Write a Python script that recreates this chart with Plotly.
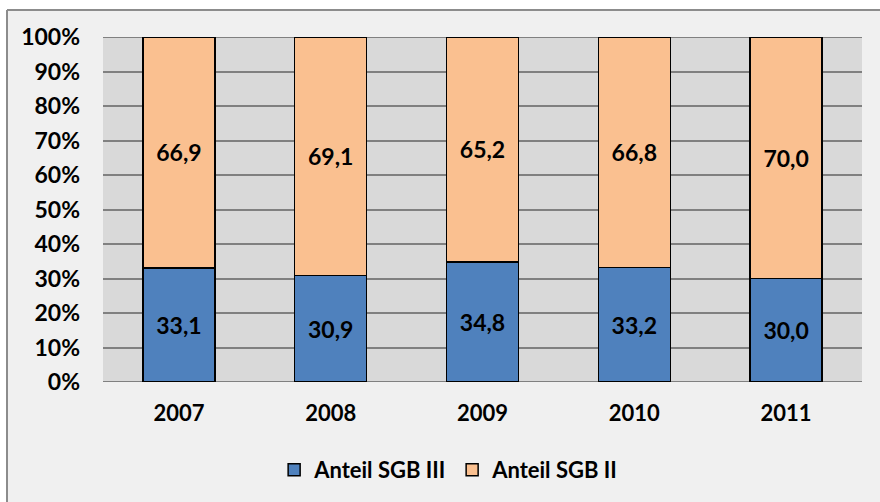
import plotly.graph_objects as go

# Share of each legal code by year (percent)
years = ["2007", "2008", "2009", "2010", "2011"]
sgb3 = [33.1, 30.9, 34.8, 33.2, 30.0]
sgb2 = [66.9, 69.1, 65.2, 66.8, 70.0]

W, H = 880, 502
L, R, T, B = 103, 18, 37, 119
pw, ph = W - L - R, H - T - B

def px_x(x):
    return (x - L) / pw

def px_y(y):
    return (H - B - y) / ph

font_family = "Lato, 'Open Sans', sans-serif"
label_font = dict(family=font_family, size=23, color="black", weight="bold")

fig = go.Figure()
fig.add_trace(go.Bar(
    x=years, y=sgb3, name="Anteil SGB III",
    marker=dict(color="#4f81bd", line=dict(color="black", width=1.5)),
    texttemplate="%{y:.1f}", textposition="inside", insidetextanchor="middle",
    textfont=label_font, textangle=0,
))
fig.add_trace(go.Bar(
    x=years, y=sgb2, name="Anteil SGB II",
    marker=dict(color="#fac090", line=dict(color="black", width=1.5)),
    texttemplate="%{y:.1f}", textposition="inside", insidetextanchor="middle",
    textfont=label_font, textangle=0,
))

# White page margin above and left of the chart frame
fig.add_shape(type="rect", xref="paper", yref="paper", layer="below",
              x0=px_x(-5), x1=px_x(W + 5), y0=px_y(-5), y1=px_y(10),
              line=dict(width=0), fillcolor="white")
fig.add_shape(type="rect", xref="paper", yref="paper", layer="below",
              x0=px_x(-5), x1=px_x(7), y0=px_y(-5), y1=px_y(H + 5),
              line=dict(width=0), fillcolor="white")
# Frame border lines
fig.add_shape(type="line", xref="paper", yref="paper", layer="below",
              x0=px_x(7), x1=px_x(W + 5), y0=px_y(10), y1=px_y(10),
              line=dict(color="#8c8c8c", width=2))
fig.add_shape(type="line", xref="paper", yref="paper", layer="below",
              x0=px_x(7), x1=px_x(7), y0=px_y(10), y1=px_y(H + 5),
              line=dict(color="#8c8c8c", width=2))
# Gridlines on the range edges (0% and 100%)
for yv in (0, 100):
    fig.add_shape(type="line", xref="paper", yref="y", layer="below",
                  x0=0, x1=1, y0=yv, y1=yv,
                  line=dict(color="#808080", width=2))

fig.update_layout(
    width=W, height=H,
    margin=dict(l=L, r=R, t=T, b=B, pad=0),
    barmode="stack", bargap=0.526,
    separators=",.",
    paper_bgcolor="#f0f0f0", plot_bgcolor="#d9d9d9",
    font=dict(family=font_family, color="black"),
    showlegend=True,
    legend=dict(
        orientation="h", x=0.46, xanchor="center", y=px_y(470), yanchor="middle",
        font=dict(family=font_family, size=22, color="black", weight="bold"),
        bgcolor="rgba(0,0,0,0)", traceorder="normal",
        entrywidth=133,
    ),
)

fig.update_xaxes(
    showgrid=False, zeroline=False, showline=False, ticks="",
    tickfont=dict(family=font_family, size=22, color="black", weight="bold"),
    ticklabelstandoff=16,
)
fig.update_yaxes(
    range=[0, 100], dtick=10, ticksuffix="%", showgrid=True,
    gridcolor="#808080", gridwidth=2, zeroline=False, showline=False, ticks="",
    tickfont=dict(family=font_family, size=23, color="black", weight="bold"),
    ticklabelstandoff=22,
)

fig.write_html("out.html")
